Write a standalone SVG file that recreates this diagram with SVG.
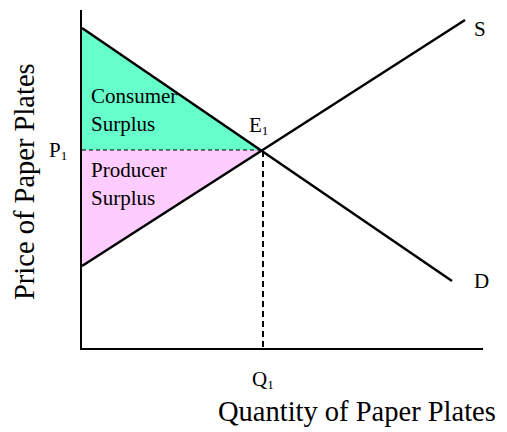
<svg xmlns="http://www.w3.org/2000/svg" width="507" height="432" viewBox="0 0 507 432">
<style>
text{font-family:"Liberation Serif","Times New Roman",serif;fill:#000}
.lbl{font-size:21px}
.sub{font-size:13px}
.big{font-size:28.5px}
.curve{stroke:#000;stroke-width:2.5;fill:none}
.axis{stroke:#000;stroke-width:2;fill:none}
</style>
<rect width="507" height="432" fill="#fff"/>
<g id="consumer-surplus"><polygon points="82,28 262,150 82,150" fill="#66FFCC"/>
<text class="lbl" x="91" y="103">Consumer</text><text class="lbl" x="91" y="131">Surplus</text></g>
<g id="producer-surplus"><polygon points="82,150 262,150 82,266" fill="#FFCCFF"/>
<text class="lbl" x="91" y="177">Producer</text><text class="lbl" x="91" y="205">Surplus</text></g>
<g id="connectors">
<line class="axis" x1="81" y1="10" x2="81" y2="349"/>
<line class="axis" x1="80" y1="349" x2="483" y2="349"/>
<line x1="82" y1="150" x2="262" y2="150" stroke="#000" stroke-width="1.2" stroke-dasharray="4,3"/>
<line x1="263" y1="151" x2="263" y2="348" stroke="#000" stroke-width="2" stroke-dasharray="6,4"/>
<line class="curve" x1="82" y1="28" x2="452" y2="281"/>
<line class="curve" x1="82" y1="266" x2="465" y2="20"/>
</g>
<g id="S"><text class="lbl" x="474" y="36">S</text></g>
<g id="D"><text class="lbl" x="474" y="288">D</text></g>
<g id="E1"><text class="lbl" x="249" y="132">E<tspan class="sub" dy="3">1</tspan></text></g>
<g id="P1"><text class="lbl" x="49" y="157">P<tspan class="sub" dy="3">1</tspan></text></g>
<g id="Q1"><text class="lbl" x="252" y="386">Q<tspan class="sub" dy="3">1</tspan></text></g>
<g id="x-label"><text class="big" x="218" y="421">Quantity of Paper Plates</text></g>
<g id="y-label"><text class="big" transform="translate(34,300) rotate(-90)">Price of Paper Plates</text></g>
</svg>
